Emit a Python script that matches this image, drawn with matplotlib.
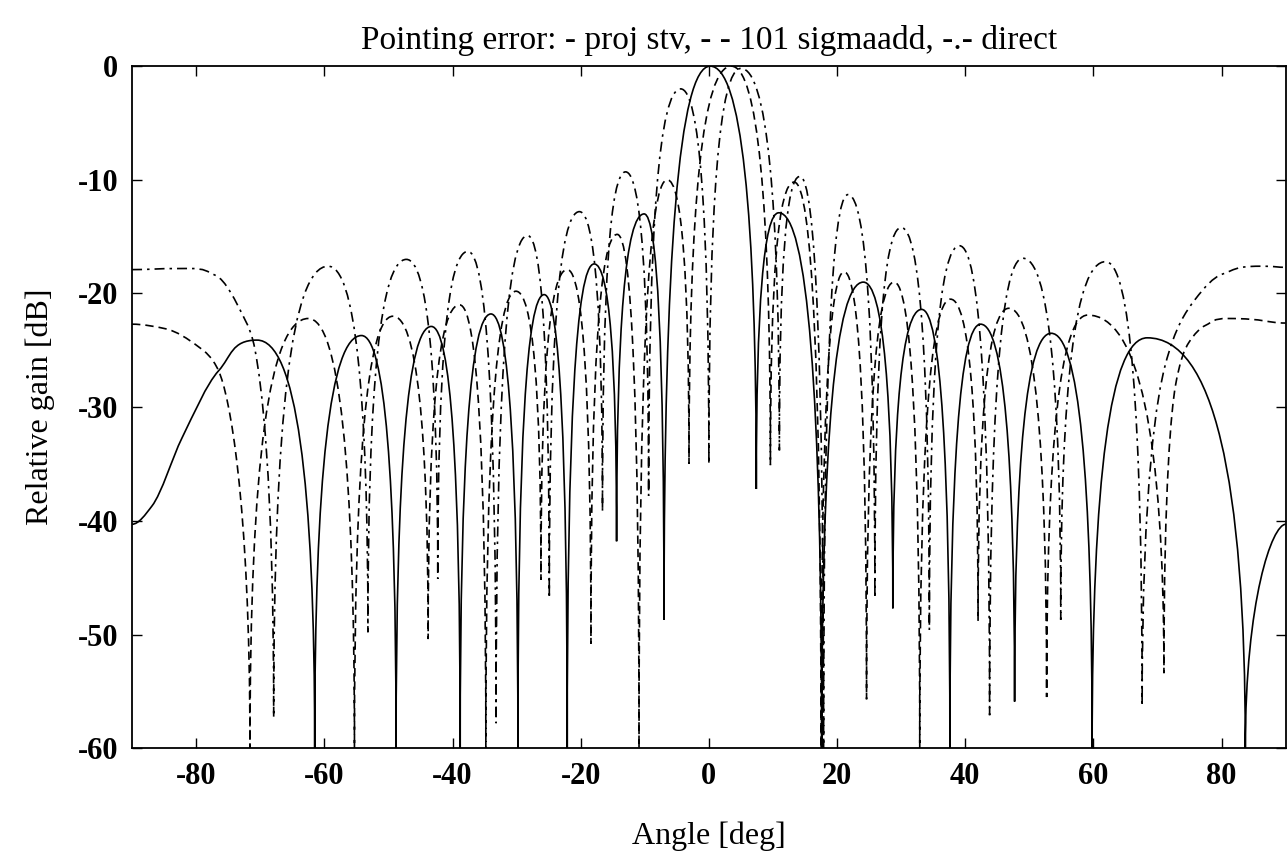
import matplotlib

matplotlib.use("Agg")

import matplotlib.pyplot as plt
from matplotlib.patches import PathPatch
from matplotlib.path import Path

plt.rcParams["font.family"] = ["Liberation Serif", "DejaVu Serif"]
plt.rcParams["axes.unicode_minus"] = False

# Lobe peaks / nulls (plus a few flank points):
# angle [deg], relative gain [dB]
stv_deg = [-90, -86.9, -82.2, -76.5, -70.5, -61.5, -54.2, -48.8, -43.3, -38.8,
           -34.0, -29.8, -25.7, -22.1, -17.9, -14.4, -10.1, -7.0, 0.2, 7.4,
           10.9, 17.6, 24.1, 28.7, 33.2, 37.6, 42.4, 47.7, 53.4, 59.8,
           68.4, 83.7, 90]
stv_db = [-40.3, -38.7, -32.7, -26.8, -24.1, -60, -23.7, -60, -22.9, -60,
          -21.8, -60, -20.1, -60, -17.4, -41.8, -13.0, -48.7, 0.0, -37.2,
          -12.9, -60, -19.0, -47.7, -21.4, -60, -22.7, -55.9, -23.5, -60,
          -23.9, -60, -40.3]

sigma_deg = [-90, -84.8, -79.6, -76.5, -71.6, -62.5, -55.3, -49.3, -43.8, -38.9,
             -34.8, -30.1, -26.2, -22.1, -18.4, -14.3, -10.9, -6.5, -3.1, 3.5,
             9.6, 13.3, 17.5, 21.1, 24.6, 28.9, 32.9, 37.7, 42.0, 46.8,
             52.7, 59.1, 71.0, 72.8, 74.9, 77.5, 80.9, 90]
sigma_db = [-22.7, -23.1, -24.7, -26.8, -60, -22.2, -60, -22.0, -50.4, -21.0,
            -60, -19.8, -45.2, -17.9, -50.8, -14.8, -60, -10.0, -35.0, 0.0,
            -35.1, -10.2, -60, -18.1, -55.7, -19.0, -60, -20.5, -48.8, -21.3,
            -55.5, -21.9, -53.4, -28.1, -24.3, -22.8, -22.2, -22.6]

direct_deg = [-90, -81.2, -77.0, -72.3, -70.8, -67.9, -59.4, -53.2, -47.2, -42.3,
              -37.6, -33.2, -28.3, -24.9, -20.2, -16.6, -13.0, -9.4, -4.4, 0.0,
              5.0, 11.0, 14.2, 17.9, 21.7, 25.9, 30.0, 34.4, 39.1, 43.8,
              49.0, 54.9, 61.9, 67.6, 71.2, 75.9, 80.1, 86.0, 90]
direct_db = [-17.9, -17.8, -18.4, -22.4, -25.0, -57.3, -17.6, -49.8, -17.0, -45.1,
             -16.3, -57.8, -14.9, -46.8, -12.8, -39.2, -9.3, -37.8, -2.0, -35.0,
             -0.2, -33.8, -9.7, -60, -11.3, -46.8, -14.2, -49.6, -15.8, -57.1,
             -16.9, -48.7, -17.2, -56.3, -26.3, -20.5, -18.3, -17.6, -17.7]

x_ticks = [-80, -60, -40, -20, 0, 20, 40, 60, 80]
y_ticks = [0, -10, -20, -30, -40, -50, -60]


def control(xs, ys, i, j):
    """Bezier handle at point i pointing to neighbour j.

    Peaks get a flat tangent, nulls a vertical one, points on a flank the
    (harmonic mean) slope of their neighbours; the plot edges are flat
    with a short handle.
    """
    n = len(xs)
    h = xs[j] - xs[i]
    if i in (0, n - 1):
        return (xs[i] + h / 3, ys[i])
    if ys[i] >= ys[i - 1] and ys[i] >= ys[i + 1]:
        return (xs[i] + 2 * h / 3, ys[i])
    if ys[i] <= ys[i - 1] and ys[i] <= ys[i + 1]:
        return (xs[i], ys[i] + 2 * (ys[j] - ys[i]) / 3)
    dl = (ys[i] - ys[i - 1]) / (xs[i] - xs[i - 1])
    dr = (ys[i + 1] - ys[i]) / (xs[i + 1] - xs[i])
    m = 2 / (1 / dl + 1 / dr)
    return (xs[i] + h / 3, ys[i] + m * h / 3)


def pattern_path(xs, ys):
    verts = [(xs[0], ys[0])]
    codes = [Path.MOVETO]
    for i in range(len(xs) - 1):
        verts += [control(xs, ys, i, i + 1), control(xs, ys, i + 1, i),
                  (xs[i + 1], ys[i + 1])]
        codes += [Path.CURVE4] * 3
    return Path(verts, codes)


fig = plt.figure(figsize=(12.87, 8.59), dpi=100)
ax = fig.add_axes([0.1026, 0.129, 0.8964, 0.794])

curves = [
    (stv_deg, stv_db, "-"),
    (sigma_deg, sigma_db, (0, (5, 3))),
    (direct_deg, direct_db, (0, (6, 3, 1.5, 3))),
]
for xs, ys, ls in curves:
    ax.add_patch(PathPatch(pattern_path(xs, ys), fill=False, edgecolor="black",
                           linewidth=1.2, linestyle=ls))

ax.set_xlim(-90, 90)
ax.set_ylim(-60, 0)
ax.set_xticks(x_ticks)
ax.set_yticks(y_ticks)
ax.tick_params(direction="in", length=7, width=1.0, top=True, right=True,
               labelsize=22, pad=10)
for lab in ax.get_xticklabels() + ax.get_yticklabels():
    lab.set_fontweight("bold")
for sp in ax.spines.values():
    sp.set_linewidth(1.3)

ax.set_title("Pointing error: - proj stv, - - 101 sigmaadd, -.- direct",
             fontsize=24, pad=12)
ax.set_xlabel("Angle [deg]", fontsize=23, labelpad=22)
ax.set_ylabel("Relative gain [dB]", fontsize=23, labelpad=16)

fig.savefig("out.png", dpi=100)
